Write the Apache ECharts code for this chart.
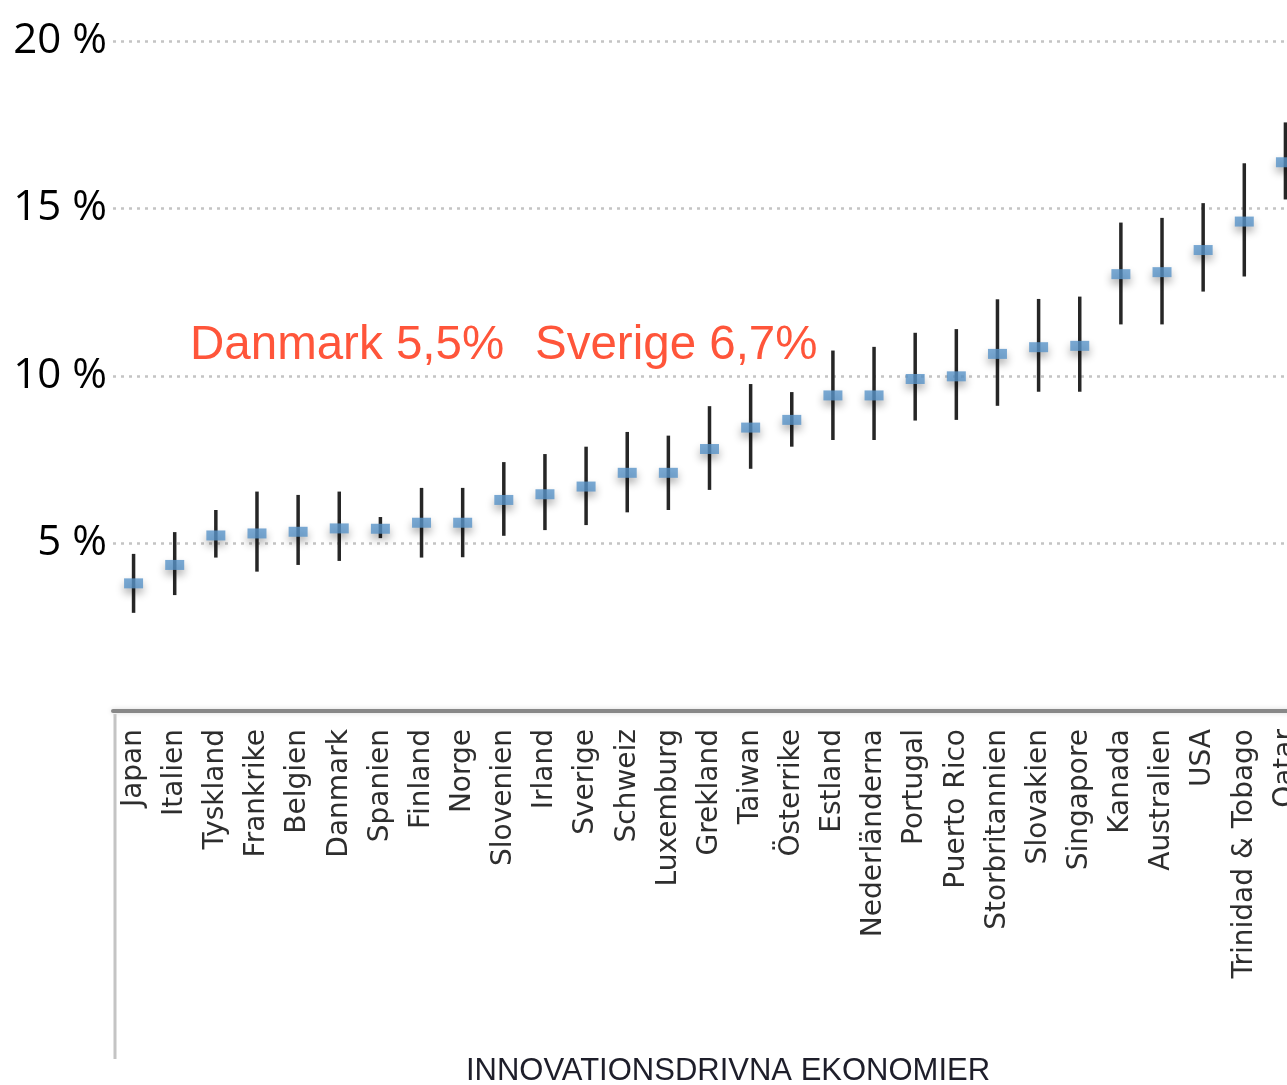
<!DOCTYPE html>
<html>
<head>
<meta charset="utf-8">
<script src="https://cdn.jsdelivr.net/npm/echarts@6/dist/echarts.min.js"></script>
<style>
html,body{margin:0;padding:0;background:#fff;overflow:hidden;}
#chart{width:1306px;height:1085px;}
</style>
</head>
<body>
<div id="chart"></div>
<script>
const categories = ['Japan','Italien','Tyskland','Frankrike','Belgien','Danmark','Spanien','Finland','Norge','Slovenien','Irland','Sverige','Schweiz','Luxemburg','Grekland','Taiwan','Österrike','Estland','Nederländerna','Portugal','Puerto Rico','Storbritannien','Slovakien','Singapore','Kanada','Australien','USA','Trinidad & Tobago','Qatar'];
const values = [3.81,4.36,5.24,5.30,5.35,5.45,5.44,5.62,5.62,6.30,6.47,6.70,7.11,7.11,7.82,8.46,8.69,9.42,9.42,9.91,9.99,10.66,10.86,10.90,13.04,13.10,13.76,14.61,16.38];
const lows   = [2.93,3.46,4.58,4.16,4.36,4.48,5.16,4.58,4.59,5.23,5.40,5.55,5.93,6.00,6.60,7.23,7.89,8.09,8.09,8.67,8.69,9.11,9.53,9.53,11.54,11.54,12.52,12.97,15.27];
const highs  = [4.69,5.34,6.00,6.55,6.45,6.55,5.79,6.66,6.66,7.43,7.67,7.89,8.33,8.22,9.10,9.76,9.52,10.76,10.87,11.29,11.40,12.29,12.30,12.37,14.58,14.72,15.16,16.35,17.57];
const yTicks = [5,10,15,20];
const annotations = ['Danmark 5,5%', 'Sverige 6,7%'];
const axisTitle = 'INNOVATIONSDRIVNA EKONOMIER';

const chart = echarts.init(document.getElementById('chart'), null, {renderer:'canvas'});
const errData = categories.map((c,i)=>[i, lows[i], highs[i]]);

chart.setOption({
  animation:false,
  grid:{left:113, right:0, top:41, bottom:374, containLabel:false},
  xAxis:{
    type:'category',
    data:categories,
    boundaryGap:true,
    axisLine:{show:true, lineStyle:{color:'#888', width:4, shadowColor:'#d8d8d8', shadowBlur:5}},
    axisTick:{show:false},
    axisLabel:{rotate:90, interval:0, margin:18, fontSize:28, fontFamily:'DejaVu Sans', color:'#2e2e2e'},
    splitLine:{show:false}
  },
  yAxis:{
    type:'value', min:0, max:20, interval:5,
    axisLine:{show:false}, axisTick:{show:false},
    axisLabel:{
      margin:6, fontSize:42, fontFamily:'Open Sans', color:'#000',
      padding:[0,0,14,0],
      formatter:function(v){ return yTicks.indexOf(v) >= 0 ? v + ' %' : ''; }
    },
    splitLine:{show:true, lineStyle:{color:'#c4c4c4', width:2.5, type:[3,5]}}
  },
  graphic:[
    {type:'line', shape:{x1:115, y1:714, x2:115, y2:1059}, style:{stroke:'#c4c4c4', lineWidth:3}},
    {type:'text', x:190, y:346, style:{text:annotations[0], font:'47.5px "Liberation Sans", Arial, sans-serif', fill:'#ff553a', verticalAlign:'middle', textAlign:'left'}},
    {type:'text', x:535, y:346, style:{text:annotations[1], font:'47.5px "Liberation Sans", Arial, sans-serif', fill:'#ff553a', verticalAlign:'middle', textAlign:'left'}},
    {type:'text', x:728, y:1071, style:{text:axisTitle, font:'31px "Liberation Sans", Arial, sans-serif', fill:'#1e1e2a', verticalAlign:'middle', textAlign:'center'}}
  ],
  series:[
    {
      type:'custom',
      data:errData,
      z:2,
      renderItem:function(params, api){
        const x = api.value(0);
        const p1 = api.coord([x, api.value(1)]);
        const p2 = api.coord([x, api.value(2)]);
        return {type:'line', shape:{x1:p1[0], y1:p1[1], x2:p2[0], y2:p2[1]}, style:{stroke:'#262626', lineWidth:3.5}};
      }
    },
    {
      type:'scatter',
      data:values,
      z:3,
      symbol:'rect',
      symbolSize:[19,10],
      itemStyle:{color:'#5993c8', shadowColor:'rgba(0,0,0,0.4)', shadowBlur:9, shadowOffsetY:5}
    }
  ]
});
</script>
</body>
</html>
